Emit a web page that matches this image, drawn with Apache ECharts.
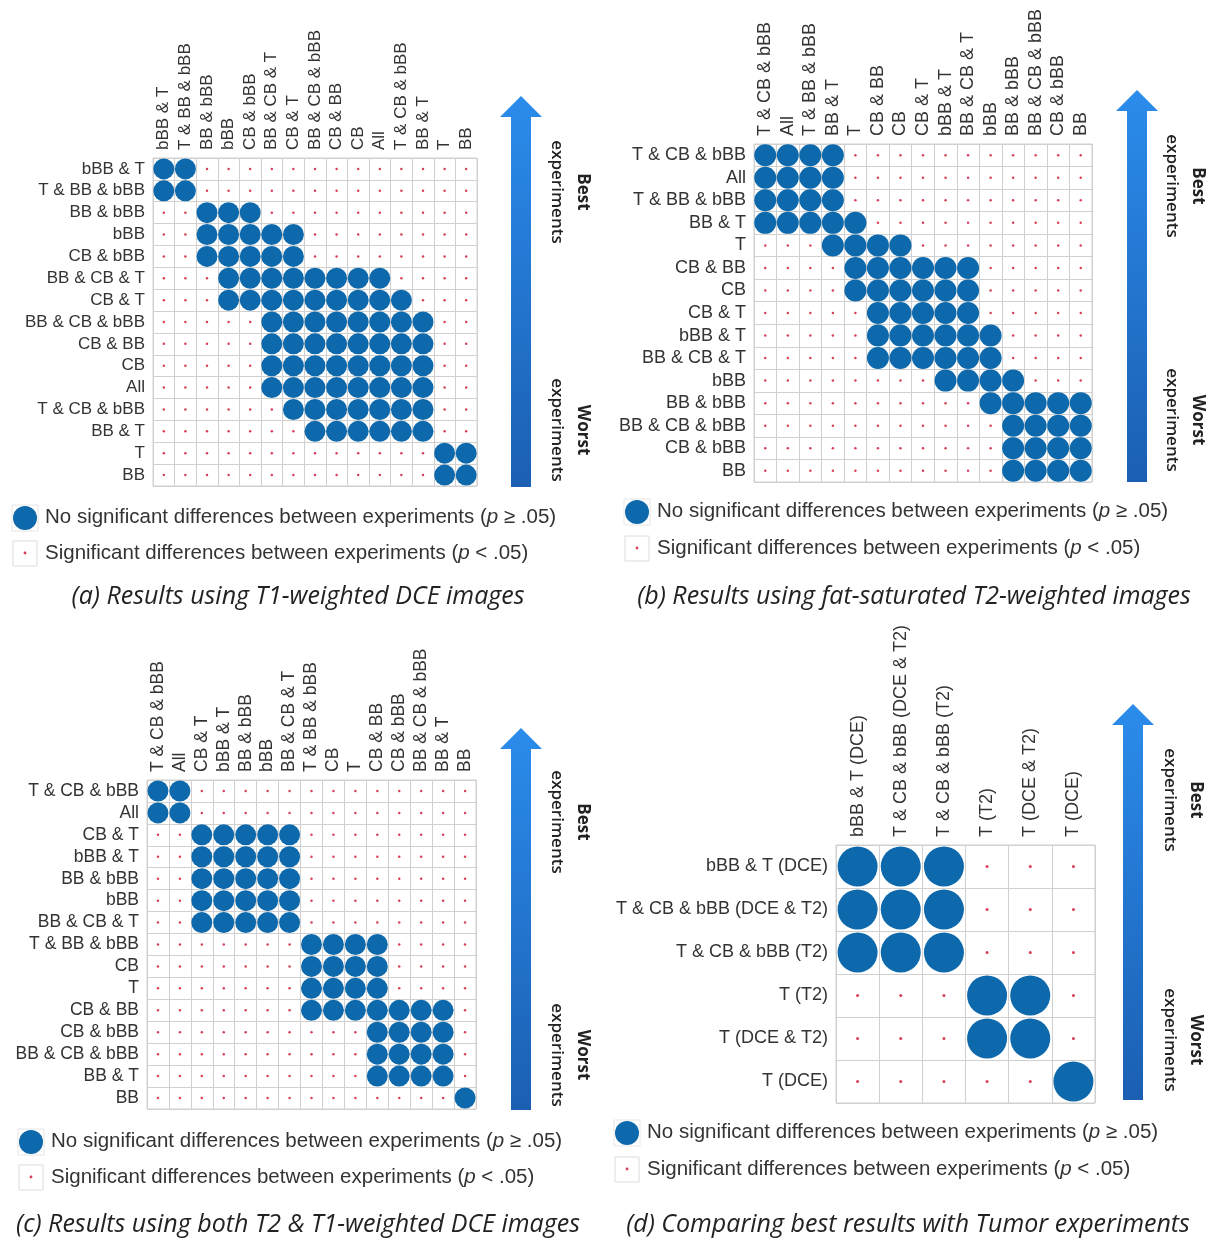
<!DOCTYPE html>
<html>
<head>
<meta charset="utf-8">
<script src="https://cdn.jsdelivr.net/npm/echarts@6/dist/echarts.min.js"></script>
<style>
  html, body { margin: 0; padding: 0; background: #fff; }
  #chart { width: 1215px; height: 1241px; }
</style>
</head>
<body>
<div id="chart"></div>
<script>
// Experiment orderings (best at top) and, for each row, the range of columns
// [from, to] where the pairwise test is NOT significant (p >= .05).
const labelsA = ['bBB & T', 'T & BB & bBB', 'BB & bBB', 'bBB', 'CB & bBB', 'BB & CB & T', 'CB & T',
  'BB & CB & bBB', 'CB & BB', 'CB', 'All', 'T & CB & bBB', 'BB & T', 'T', 'BB'];
const rangesA = [[0, 1], [0, 1], [2, 4], [2, 6], [2, 6], [3, 10], [3, 11], [5, 12], [5, 12], [5, 12],
  [5, 12], [6, 12], [7, 12], [13, 14], [13, 14]];

const labelsB = ['T & CB & bBB', 'All', 'T & BB & bBB', 'BB & T', 'T', 'CB & BB', 'CB', 'CB & T',
  'bBB & T', 'BB & CB & T', 'bBB', 'BB & bBB', 'BB & CB & bBB', 'CB & bBB', 'BB'];
const rangesB = [[0, 3], [0, 3], [0, 3], [0, 4], [3, 6], [4, 9], [4, 9], [5, 9], [5, 10], [5, 10],
  [8, 11], [10, 14], [11, 14], [11, 14], [11, 14]];

const labelsC = ['T & CB & bBB', 'All', 'CB & T', 'bBB & T', 'BB & bBB', 'bBB', 'BB & CB & T',
  'T & BB & bBB', 'CB', 'T', 'CB & BB', 'CB & bBB', 'BB & CB & bBB', 'BB & T', 'BB'];
const rangesC = [[0, 1], [0, 1], [2, 6], [2, 6], [2, 6], [2, 6], [2, 6], [7, 10], [7, 10], [7, 10],
  [7, 13], [10, 13], [10, 13], [10, 13], [14, 14]];

const labelsD = ['bBB & T (DCE)', 'T & CB & bBB (DCE & T2)', 'T & CB & bBB (T2)', 'T (T2)',
  'T (DCE & T2)', 'T (DCE)'];
const rangesD = [[0, 2], [0, 2], [0, 2], [3, 4], [3, 4], [5, 5]];

const captions = [
  '(a) Results using T1-weighted DCE images',
  '(b) Results using fat-saturated T2-weighted images',
  '(c) Results using both T2 & T1-weighted DCE images',
  '(d) Comparing best results with Tumor experiments'
];
const legendNoSig = ['No significant differences between experiments (', 'p', ' \u2265 .05)'];
const legendSig = ['Significant differences between experiments (', 'p', ' < .05)'];

const BLUE = '#0d69ab';
const RED = '#d8405a';
const GRIDLINE = '#d0d0d0';
const TEXT = '#333333';
const SANS = "'Liberation Sans', Arial, Helvetica, sans-serif";
const OPEN = "'Open Sans', 'Noto Sans', sans-serif";

// Layout of each panel: matrix box, label size, marker sizes, arrow, legend, caption.
const panels = [
  { labels: labelsA, ranges: rangesA, box: [153, 158, 324, 328], font: 17, circle: 21, dot: 2.5,
    arrow: { x: 521, tip: 96, base: 117, bottom: 487 }, textX: 570, best: 192, worst: 430,
    legend: { x: 25, y1: 518, y2: 553 }, caption: { x: 298, y: 597 } },
  { labels: labelsB, ranges: rangesB, box: [754, 144, 338, 338], font: 18, circle: 22, dot: 2.5,
    arrow: { x: 1137, tip: 90, base: 111, bottom: 482 }, textX: 1185, best: 186, worst: 420,
    legend: { x: 637, y1: 512, y2: 548 }, caption: { x: 914, y: 597 } },
  { labels: labelsC, ranges: rangesC, box: [147, 780, 329, 329], font: 17.5, circle: 21, dot: 2.5,
    arrow: { x: 521, tip: 728, base: 749, bottom: 1110 }, textX: 570, best: 822, worst: 1055,
    legend: { x: 31, y1: 1142, y2: 1177 }, caption: { x: 298, y: 1225 } },
  { labels: labelsD, ranges: rangesD, box: [836, 845, 259, 258], font: 18, circle: 40, dot: 3,
    arrow: { x: 1133, tip: 704, base: 725, bottom: 1100 }, textX: 1183, best: 800, worst: 1040,
    legend: { x: 627, y1: 1133, y2: 1169 }, caption: { x: 908, y: 1225 } }
];

const grid = [], xAxis = [], yAxis = [], series = [], graphic = [];

panels.forEach((p, i) => {
  const [left, top, width, height] = p.box;
  grid.push({ left, top, width, height, show: true, borderColor: GRIDLINE, borderWidth: 1,
    backgroundColor: '#fff', containLabel: false });

  const labelStyle = { color: TEXT, fontFamily: SANS, fontSize: p.font, margin: 8 };
  const split = { show: true, interval: 0, lineStyle: { color: GRIDLINE, width: 1 } };
  xAxis.push({ type: 'category', gridIndex: i, position: 'top', data: p.labels,
    axisLine: { show: false }, axisTick: { show: false }, splitLine: split,
    axisLabel: Object.assign({ rotate: -90, interval: 0 }, labelStyle) });
  yAxis.push({ type: 'category', gridIndex: i, inverse: true, data: p.labels,
    axisLine: { show: false }, axisTick: { show: false }, splitLine: split,
    axisLabel: Object.assign({ interval: 0 }, labelStyle) });

  const same = [], diff = [];
  p.ranges.forEach((r, row) => {
    p.labels.forEach((_, col) => {
      (col >= r[0] && col <= r[1] ? same : diff).push([col, row]);
    });
  });
  series.push({ type: 'scatter', xAxisIndex: i, yAxisIndex: i, data: same, symbol: 'circle',
    symbolSize: p.circle, itemStyle: { color: BLUE, opacity: 1 }, silent: true, z: 3 });
  series.push({ type: 'scatter', xAxisIndex: i, yAxisIndex: i, data: diff, symbol: 'circle',
    symbolSize: p.dot, itemStyle: { color: RED, opacity: 1 }, silent: true, z: 3 });

  // "Best / Worst experiments" arrow beside the matrix
  const a = p.arrow;
  graphic.push({
    type: 'polygon', z: 1,
    shape: { points: [[a.x, a.tip], [a.x + 21, a.base], [a.x + 10, a.base], [a.x + 10, a.bottom],
      [a.x - 10, a.bottom], [a.x - 10, a.base], [a.x - 21, a.base]] },
    style: { fill: new echarts.graphic.LinearGradient(0, 0, 0, 1, [
      { offset: 0, color: '#2b8ceb' }, { offset: 1, color: '#1b5fb3' }]) }
  });
  [['Best', p.best], ['Worst', p.worst]].forEach(([word, cy]) => {
    graphic.push({
      type: 'text', x: p.textX, y: cy, rotation: -Math.PI / 2,
      style: { text: '{b|' + word + '}\n{e|experiments}', align: 'center', verticalAlign: 'middle',
        rich: {
          b: { fontFamily: OPEN, fontSize: 17, fontWeight: 'bold', fill: '#222', lineHeight: 26, align: 'center' },
          e: { fontFamily: OPEN, fontSize: 17, fontWeight: 600, fill: '#222', lineHeight: 26, align: 'center' }
        } }
    });
  });

  // Key below the matrix
  const L = p.legend;
  const rich = {
    n: { fontFamily: SANS, fontSize: 20.5, fill: TEXT },
    i: { fontFamily: SANS, fontSize: 20.5, fill: TEXT, fontStyle: 'italic' }
  };
  graphic.push({ type: 'rect', shape: { x: L.x - 13, y: L.y1 - 13, width: 26, height: 26 },
    style: { fill: '#fff', stroke: '#e6e6e6', lineWidth: 1 } });
  graphic.push({ type: 'circle', shape: { cx: L.x, cy: L.y1, r: 12 }, style: { fill: BLUE } });
  graphic.push({ type: 'text', x: L.x + 20, y: L.y1 - 1,
    style: { text: '{n|' + legendNoSig[0] + '}{i|' + legendNoSig[1] + '}{n|' + legendNoSig[2] + '}',
      verticalAlign: 'middle', align: 'left', rich } });
  graphic.push({ type: 'rect', shape: { x: L.x - 12, y: L.y2 - 12, width: 24, height: 25 },
    style: { fill: '#fff', stroke: '#dcdcdc', lineWidth: 1 } });
  graphic.push({ type: 'circle', shape: { cx: L.x, cy: L.y2, r: 1.4 }, style: { fill: RED } });
  graphic.push({ type: 'text', x: L.x + 20, y: L.y2,
    style: { text: '{n|' + legendSig[0] + '}{i|' + legendSig[1] + '}{n|' + legendSig[2] + '}',
      verticalAlign: 'middle', align: 'left', rich } });

  // Panel caption
  graphic.push({ type: 'text', x: p.caption.x, y: p.caption.y,
    style: { text: captions[i], align: 'center', verticalAlign: 'middle', fontFamily: OPEN,
      fontSize: 25, fontStyle: 'italic', fill: '#222' } });
});

const chart = echarts.init(document.getElementById('chart'), null, { renderer: 'canvas' });
chart.setOption({
  backgroundColor: '#ffffff',
  animation: false,
  grid, xAxis, yAxis, series, graphic
});
</script>
</body>
</html>
